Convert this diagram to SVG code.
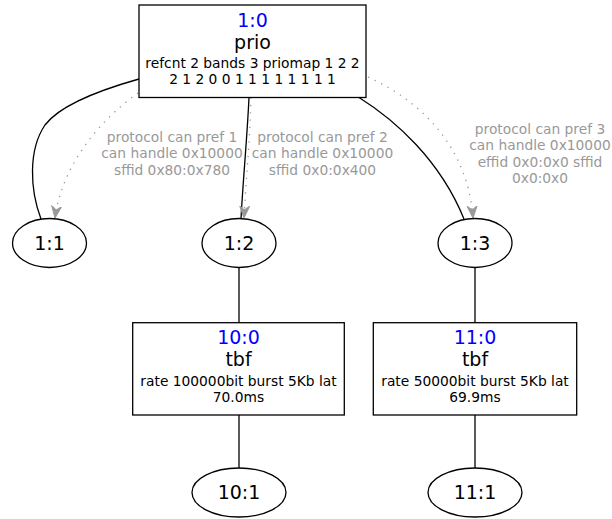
<svg xmlns="http://www.w3.org/2000/svg" width="612" height="519" viewBox="0 0 612 519">
<style>
.shape{fill:#ffffff;stroke:#000000;stroke-width:1.3}
.t{font-family:"DejaVu Sans",sans-serif;text-anchor:middle;fill:#000000}
.big{font-size:19px}
.small{font-size:13.8px}
.id{fill:#0000ff}
.lbl{font-family:"DejaVu Sans",sans-serif;text-anchor:middle;font-size:13.8px;fill:#999999}
.e{fill:none;stroke:#000000;stroke-width:1.3}
.d{fill:none;stroke:#999999;stroke-width:1.3;stroke-dasharray:1.3,6}
</style>
<defs>
<marker id="vee" viewBox="0 0 12 12" refX="12" refY="6" markerWidth="12" markerHeight="12" markerUnits="userSpaceOnUse" orient="auto">
<path d="M0,1 L12,6 L0,11 L4,6 Z" fill="#999999" stroke="#999999" stroke-width="1"/>
</marker>
</defs>
<rect width="612" height="519" fill="#ffffff"/>
<g id="connectors">
<path class="e" d="M139,79 C100,90 60,105 45,125 C28,150 30,190 41,219"/>
<path class="d" d="M138,93 C100,120 62,165 55,218" marker-end="url(#vee)"/>
<path class="e" d="M249,97.5 C247,140 243,180 241,219"/>
<path class="d" d="M251,97.5 C250,140 246,180 244,218" marker-end="url(#vee)"/>
<path class="e" d="M359,97.5 C395,120 440,160 464,219"/>
<path class="d" d="M368,77 C425,103 468,150 473,218" marker-end="url(#vee)"/>
<line class="e" x1="239" y1="267.5" x2="239" y2="322.7"/>
<line class="e" x1="239" y1="415" x2="239" y2="468"/>
<line class="e" x1="475" y1="267.5" x2="475" y2="322.7"/>
<line class="e" x1="475" y1="415" x2="475" y2="468"/>
<text class="lbl" x="172" y="141.5">protocol can pref 1</text>
<text class="lbl" x="172" y="158">can handle 0x10000</text>
<text class="lbl" x="172" y="174.5">sffid 0x80:0x780</text>
<text class="lbl" x="322.5" y="141.5">protocol can pref 2</text>
<text class="lbl" x="322.5" y="158">can handle 0x10000</text>
<text class="lbl" x="322.5" y="174.5">sffid 0x0:0x400</text>
<text class="lbl" x="540" y="133.5">protocol can pref 3</text>
<text class="lbl" x="540" y="150">can handle 0x10000</text>
<text class="lbl" x="540" y="166.5">effid 0x0:0x0 sffid</text>
<text class="lbl" x="540" y="183">0x0:0x0</text>
</g>
<g id="n1_0">
<rect class="shape" x="139" y="5" width="227" height="92.5"/>
<text class="t big id" x="252.5" y="26.5">1:0</text>
<text class="t big" x="252.5" y="48.5">prio</text>
<text class="t small" x="252.5" y="68">refcnt 2 bands 3 priomap 1 2 2</text>
<text class="t small" x="252.5" y="84">2 1 2 0 0 1 1 1 1 1 1 1 1</text>
</g>
<g id="n1_1">
<ellipse class="shape" cx="49.5" cy="243" rx="37" ry="24.5"/>
<text class="t big" x="49.5" y="249.5">1:1</text>
</g>
<g id="n1_2">
<ellipse class="shape" cx="239" cy="243" rx="37" ry="24.5"/>
<text class="t big" x="239" y="249.5">1:2</text>
</g>
<g id="n1_3">
<ellipse class="shape" cx="475" cy="243" rx="37" ry="24.5"/>
<text class="t big" x="475" y="249.5">1:3</text>
</g>
<g id="n10_0">
<rect class="shape" x="132.7" y="322.7" width="211.6" height="92.3"/>
<text class="t big id" x="238.5" y="344">10:0</text>
<text class="t big" x="238.5" y="366">tbf</text>
<text class="t small" x="238.5" y="385.5">rate 100000bit burst 5Kb lat</text>
<text class="t small" x="238.5" y="401.5">70.0ms</text>
</g>
<g id="n11_0">
<rect class="shape" x="373.3" y="322.7" width="203.4" height="92.3"/>
<text class="t big id" x="475" y="344">11:0</text>
<text class="t big" x="475" y="366">tbf</text>
<text class="t small" x="475" y="385.5">rate 50000bit burst 5Kb lat</text>
<text class="t small" x="475" y="401.5">69.9ms</text>
</g>
<g id="n10_1">
<ellipse class="shape" cx="239" cy="492.5" rx="47" ry="24.5"/>
<text class="t big" x="239" y="499">10:1</text>
</g>
<g id="n11_1">
<ellipse class="shape" cx="475" cy="492.5" rx="47" ry="24.5"/>
<text class="t big" x="475" y="499">11:1</text>
</g>
</svg>
